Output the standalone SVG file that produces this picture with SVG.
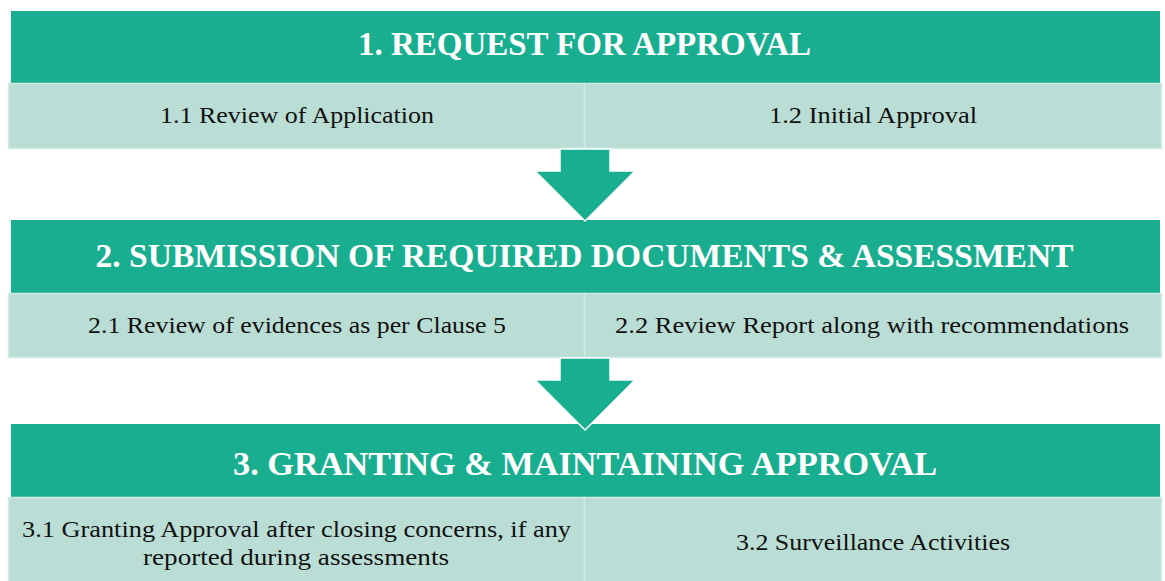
<svg xmlns="http://www.w3.org/2000/svg" width="1165" height="581" viewBox="0 0 1165 581">
  <style>
    .head { fill: #19AE90; }
    .cell { fill: #BADED5; stroke: #D3EAE4; stroke-width: 1.5; }
    .htxt { font-family: "Liberation Serif", "Times New Roman", serif; font-weight: bold; font-size: 33px; fill: #FFFFFF; text-anchor: middle; }
    .ctxt { font-family: "Liberation Serif", "Times New Roman", serif; font-size: 24px; fill: #111111; text-anchor: middle; }
    .arrow { fill: #19AE90; stroke: #FFFFFF; stroke-width: 1.5; stroke-linejoin: miter; }
  </style>
  <rect width="1165" height="581" fill="#FFFFFF"/>

  <!-- Stage 1 -->
  <g id="stage1">
    <rect class="head" x="11" y="11" width="1149" height="72"/>
    <text class="htxt" x="584.5" y="55" textLength="453" lengthAdjust="spacingAndGlyphs">1. REQUEST FOR APPROVAL</text>
  </g>
  <g id="step1-1">
    <rect class="cell" x="8.5" y="83.5" width="576" height="65"/>
    <text class="ctxt" x="297" y="123" textLength="274" lengthAdjust="spacingAndGlyphs">1.1 Review of Application</text>
  </g>
  <g id="step1-2">
    <rect class="cell" x="584.5" y="83.5" width="577" height="65"/>
    <text class="ctxt" x="873" y="123" textLength="208" lengthAdjust="spacingAndGlyphs">1.2 Initial Approval</text>
  </g>

  <!-- Stage 2 -->
  <g id="stage2">
    <rect class="head" x="11" y="220" width="1149" height="73"/>
    <text class="htxt" x="584.5" y="267" textLength="978" lengthAdjust="spacingAndGlyphs">2. SUBMISSION OF REQUIRED DOCUMENTS &amp; ASSESSMENT</text>
  </g>
  <g id="step2-1">
    <rect class="cell" x="8.5" y="293.5" width="576" height="64"/>
    <text class="ctxt" x="297" y="333" textLength="418" lengthAdjust="spacingAndGlyphs">2.1 Review of evidences as per Clause 5</text>
  </g>
  <g id="step2-2">
    <rect class="cell" x="584.5" y="293.5" width="577" height="64"/>
    <text class="ctxt" x="872" y="333" textLength="514" lengthAdjust="spacingAndGlyphs">2.2 Review Report along with recommendations</text>
  </g>

  <!-- Stage 3 -->
  <g id="stage3">
    <rect class="head" x="11" y="424" width="1149" height="73"/>
    <text class="htxt" x="585" y="475" textLength="704" lengthAdjust="spacingAndGlyphs">3. GRANTING &amp; MAINTAINING APPROVAL</text>
  </g>
  <g id="step3-1">
    <rect class="cell" x="8.5" y="497.5" width="576" height="90"/>
    <text class="ctxt" x="296.5" y="537" textLength="549" lengthAdjust="spacingAndGlyphs">3.1 Granting Approval after closing concerns, if any</text>
    <text class="ctxt" x="296" y="565" textLength="306" lengthAdjust="spacingAndGlyphs">reported during assessments</text>
  </g>
  <g id="step3-2">
    <rect class="cell" x="584.5" y="497.5" width="577" height="90"/>
    <text class="ctxt" x="873" y="550" textLength="274" lengthAdjust="spacingAndGlyphs">3.2 Surveillance Activities</text>
  </g>

  <!-- Block arrows between stages -->
  <g id="connectors">
    <path class="arrow" d="M560,149 H610 V171 H635 L585,221 L535,171 H560 Z"/>
    <path class="arrow" d="M560,358 H610 V380 H635 L585,430 L535,380 H560 Z"/>
  </g>
</svg>
